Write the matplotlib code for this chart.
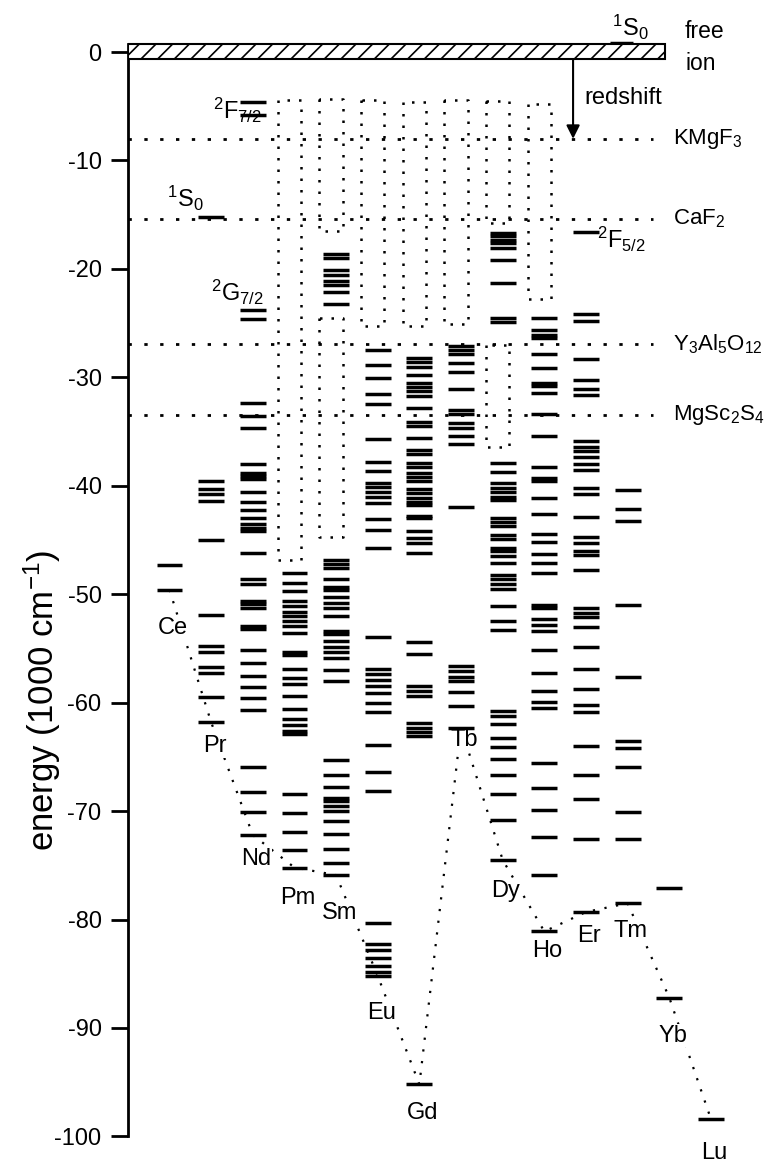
import numpy as np
import matplotlib.pyplot as plt
from matplotlib.patches import Rectangle

plt.rcParams['font.family'] = ['Liberation Sans', 'DejaVu Sans']
plt.rcParams['mathtext.fontset'] = 'custom'
plt.rcParams['mathtext.rm'] = 'Liberation Sans'
plt.rcParams['mathtext.it'] = 'Liberation Sans:italic'
plt.rcParams['mathtext.bf'] = 'Liberation Sans:bold'
plt.rcParams['axes.unicode_minus'] = False
plt.rcParams['hatch.linewidth'] = 1.2

# 4f^n levels of the trivalent lanthanides (1000 cm^-1)
elements = ['Ce', 'Pr', 'Nd', 'Pm', 'Sm', 'Eu', 'Gd', 'Tb', 'Dy', 'Ho', 'Er', 'Tm', 'Yb', 'Lu']

ce_levels = [-47.3, -49.6]
pr_levels = [-15.2, -39.6, -40.3, -40.8, -41.4, -45.0, -51.9, -54.8, -55.3, -56.7, -57.3,
             -59.5, -61.8]
nd_levels = [-4.6, -5.8, -23.8, -24.6, -32.4, -33.6, -34.7, -38.0, -38.8, -39.1, -39.4,
             -40.6, -41.5, -42.2, -43.0, -43.5, -43.9, -44.2, -46.2, -48.6, -49.1, -50.6,
             -50.9, -51.3, -52.9, -53.2, -55.1, -56.3, -57.5, -58.6, -59.6, -60.7, -65.9,
             -68.2, -70.1, -72.2]
pm_levels = [-48.0, -49.0, -49.7, -50.6, -51.1, -51.6, -52.0, -52.5, -52.9, -53.6, -55.3,
             -55.6, -56.9, -57.7, -58.3, -59.4, -60.6, -61.5, -62.1, -62.6, -62.9, -68.4,
             -70.2, -71.9, -73.6, -75.2]
sm_levels = [-18.6, -19.0, -20.1, -20.6, -21.1, -21.5, -22.1, -23.2, -46.8, -47.2, -47.6,
             -48.6, -49.3, -49.6, -50.3, -50.8, -51.3, -52.0, -53.4, -53.7, -54.3, -54.9,
             -55.3, -55.9, -57.0, -58.0, -65.3, -66.7, -67.8, -68.8, -69.1, -69.5, -70.0,
             -70.9, -72.1, -73.5, -74.8, -75.9]
eu_levels = [-27.5, -28.9, -30.1, -31.5, -32.5, -35.7, -37.8, -38.6, -39.7, -40.1, -40.6,
             -41.0, -41.6, -43.1, -44.1, -45.7, -53.9, -56.9, -57.4, -57.9, -58.5, -59.1,
             -60.0, -60.9, -63.9, -66.4, -68.1, -80.3, -82.3, -82.8, -83.5, -84.3, -84.8,
             -85.2]
gd_levels = [-28.2, -28.6, -29.0, -29.8, -30.5, -30.9, -31.3, -31.7, -32.8, -34.1, -34.5,
             -35.6, -36.7, -37.1, -37.9, -38.3, -38.8, -39.2, -39.6, -40.3, -40.7, -41.1,
             -41.5, -41.8, -42.8, -43.0, -44.2, -44.8, -45.3, -46.2, -54.4, -55.5, -58.5,
             -58.9, -59.4, -61.9, -62.3, -62.7, -63.1, -95.2]
tb_levels = [-27.1, -27.5, -27.8, -28.7, -29.5, -31.1, -33.0, -33.4, -34.2, -34.7, -35.4,
             -36.1, -42.0, -56.6, -57.1, -57.6, -58.0, -59.0, -60.3, -62.3]
dy_levels = [-16.7, -17.0, -17.3, -17.6, -18.1, -19.2, -21.3, -24.5, -24.9, -37.9, -38.7,
             -39.7, -40.2, -40.6, -41.0, -41.3, -43.0, -43.3, -43.7, -44.5, -44.9, -45.7,
             -46.0, -46.5, -47.1, -48.2, -48.6, -49.1, -49.5, -51.1, -52.5, -53.3, -60.8,
             -61.2, -62.0, -63.3, -64.1, -65.2, -66.7, -68.4, -70.8, -74.5]
ho_levels = [-24.5, -25.6, -26.1, -26.4, -27.8, -29.1, -30.5, -30.8, -31.4, -33.4, -35.4,
             -38.3, -39.3, -39.6, -41.1, -42.6, -44.4, -45.2, -46.3, -47.1, -48.0, -51.0,
             -51.3, -52.3, -52.8, -53.4, -55.1, -57.3, -58.9, -59.9, -60.5, -65.6, -67.9,
             -69.9, -72.4, -75.9, -81.1]
er_levels = [-16.6, -24.2, -24.8, -28.3, -30.2, -31.1, -31.6, -35.9, -36.4, -36.8, -37.3,
             -38.0, -38.5, -40.2, -40.8, -42.9, -44.7, -45.3, -46.0, -46.4, -47.8, -51.3,
             -51.7, -52.1, -53.0, -54.9, -56.9, -58.7, -60.2, -60.9, -64.0, -66.7, -68.9,
             -72.6, -79.3]
tm_levels = [-40.4, -42.1, -43.2, -51.0, -57.6, -63.5, -64.2, -65.9, -70.1, -72.6, -78.5]
yb_levels = [-77.1, -87.2]
lu_levels = [-98.4]

levels = [ce_levels, pr_levels, nd_levels, pm_levels, sm_levels, eu_levels, gd_levels,
          tb_levels, dy_levels, ho_levels, er_levels, tm_levels, yb_levels, lu_levels]

# Pr3+ 1S0 of the free ion
free_s0 = 0.8

# dotted windows where levels are hidden
box_element = ['Pm', 'Sm', 'Sm', 'Eu', 'Gd', 'Tb', 'Dy', 'Dy', 'Ho']
box_top = [-4.4, -4.3, -24.5, -4.4, -4.6, -4.4, -4.5, -27.0, -4.8]
box_bottom = [-46.8, -16.5, -44.7, -25.3, -25.3, -25.1, -15.8, -36.4, -22.8]

# host redshifts
hosts = ['KMgF$_3$', 'CaF$_2$', 'Y$_3$Al$_5$O$_{12}$', 'MgSc$_2$S$_4$']
host_shift = [-8.0, -15.4, -26.9, -33.5]

# element label heights
label_y = [-53.1, -64.0, -74.4, -78.0, -79.4, -88.6, -97.8, -63.4, -77.4, -82.9, -81.5,
           -81.1, -90.7, -101.5]

fig = plt.figure(figsize=(7.68, 11.63), dpi=100)
ax = fig.add_axes([128 / 768, 0, 1 - 128 / 768, 1])
x_left = -0.996
ax.set_xlim(x_left, 14.37)
ax.set_ylim(-102.45, 4.8)

xs = np.arange(len(elements))
half = 0.31

# energy levels
for x, lv in zip(xs, levels):
    ax.hlines(lv, x - half, x + half, color='k', lw=2.5, zorder=3)
ax.hlines(free_s0, 10.85 - 0.27, 10.85 + 0.27, color='k', lw=2.5, zorder=3)

# ground state curve
ground = [min(lv) for lv in levels]
ax.plot(xs, ground, color='k', lw=1.6, ls=(0, (1, 4.3)), zorder=1)

for x, name, ly in zip(xs, elements, label_y):
    ax.text(x + 0.08, ly, name, fontsize=17, ha='center', va='center', zorder=2,
            bbox=dict(fc='white', ec='none', pad=0.3))

# dotted windows
for name, top, bot in zip(box_element, box_top, box_bottom):
    xc = elements.index(name) - 0.12
    x0, x1 = xc - 0.28, xc + 0.28
    ax.plot([x0, x0, x1, x1, x0], [top, bot, bot, top, top], color='k', lw=1.8,
            ls=(0, (1, 3.6)), zorder=2)

# host lines
for name, e in zip(hosts, host_shift):
    ax.plot([x_left, 11.6], [e, e], color='k', lw=2.0, ls=(0, (1.2, 4.5)), zorder=2)
    ax.text(12.09, e, name, fontsize=16, ha='left', va='center')

# free ion bar
ax.add_patch(Rectangle((x_left, -0.67), 11.9 - x_left, 1.41, facecolor='white',
                       edgecolor='k', hatch='//', lw=1.5, zorder=4))
ax.text(12.38, 1.9, 'free', fontsize=16.5, ha='left', va='center')
ax.text(12.38, -1.06, 'ion', fontsize=16.5, ha='left', va='center')

# redshift arrow
ax.annotate('', xy=(9.69, -8.0), xytext=(9.69, -0.67),
            arrowprops=dict(arrowstyle='-|>', lw=1.5, color='k', mutation_scale=20,
                            shrinkA=0, shrinkB=0))
ax.text(9.97, -4.25, 'redshift', fontsize=17, ha='left', va='center')

# term labels
ax.text(1.05, -5.4, '$^2$F$_{7/2}$', fontsize=17, ha='left', va='center')
ax.text(-0.06, -13.5, '$^1$S$_0$', fontsize=17, ha='left', va='center')
ax.text(1.0, -22.2, '$^2$G$_{7/2}$', fontsize=17, ha='left', va='center')
ax.text(10.26, -17.3, '$^2$F$_{5/2}$', fontsize=17, ha='left', va='center')
ax.text(10.62, 2.3, '$^1$S$_0$', fontsize=17, ha='left', va='center')

# axes styling
for side in ['top', 'right', 'bottom']:
    ax.spines[side].set_visible(False)
ax.spines['left'].set_linewidth(2)
ax.spines['left'].set_bounds(-100, 0.74)
ax.set_xticks([])
ticks = list(range(-100, 1, 10))
ax.set_yticks(ticks)
ax.set_yticklabels([str(t) for t in ticks])
ax.tick_params(axis='y', direction='out', length=12, width=2, pad=7, labelsize=17)
ax.patch.set_alpha(0)

fig.text(42 / 768, 1 - 700 / 1163, 'energy (1000 cm$^{-1}$)', fontsize=25, rotation=90,
         ha='center', va='center')

fig.savefig('out.png', dpi=100)
